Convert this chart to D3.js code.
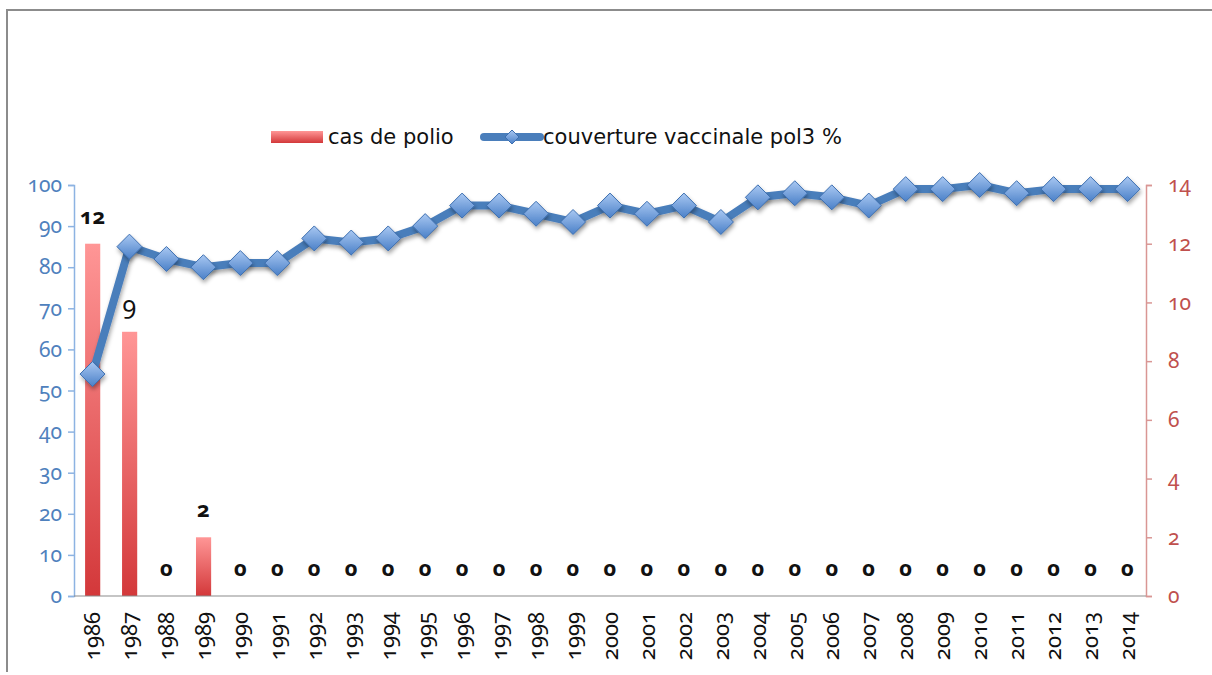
<!DOCTYPE html>
<html>
<head>
<meta charset="utf-8">
<script src="https://cdn.jsdelivr.net/npm/d3@7"></script>
<style>
  html, body { margin: 0; padding: 0; background: #fff; }
  svg text { font-family: "Noto Sans", "DejaVu Sans", sans-serif; font-variant-numeric: oldstyle-nums; }
  svg text.legend { font-family: "DejaVu Sans", sans-serif; font-variant-numeric: normal; }
</style>
</head>
<body>
<svg id="chart" width="1212" height="675"></svg>
<script>
// Data
const years = ['1986', '1987', '1988', '1989', '1990', '1991', '1992', '1993', '1994', '1995',
  '1996', '1997', '1998', '1999', '2000', '2001', '2002', '2003', '2004', '2005',
  '2006', '2007', '2008', '2009', '2010', '2011', '2012', '2013', '2014']
const polioCases = [12, 9, 0, 2, 0, 0, 0, 0, 0, 0, 0, 0, 0, 0, 0, 0, 0, 0, 0, 0, 0, 0, 0, 0, 0, 0, 0, 0, 0]
const coverage = [54, 85, 82, 80, 81, 81, 87, 86, 87, 90, 95, 95, 93, 91, 95, 93, 95, 91, 97, 98,
  97, 95, 99, 99, 100, 98, 99, 99, 99]
const leftTicks = [0, 10, 20, 30, 40, 50, 60, 70, 80, 90, 100]
const rightTicks = [0, 2, 4, 6, 8, 10, 12, 14]

const svg = d3.select('#chart')

// Plot box
const plotLeft = 74
const plotRight = 1146
const plotTop = 185
const plotBottom = 596

const x = d3.scaleBand().domain(years).range([plotLeft, plotRight]).padding(0)
const yL = d3.scaleLinear().domain([0, 100]).range([plotBottom, plotTop])
const yR = d3.scaleLinear().domain([0, 14]).range([plotBottom, plotTop])

const defs = svg.append('defs')

let barGrad = defs.append('linearGradient')
  .attr('id', 'barGrad')
  .attr('x1', 0).attr('y1', 0).attr('x2', 0).attr('y2', 1)
barGrad.append('stop').attr('offset', '0%').attr('stop-color', '#ff9696')
barGrad.append('stop').attr('offset', '100%').attr('stop-color', '#d3383a')

let diaGrad = defs.append('linearGradient')
  .attr('id', 'diaGrad')
  .attr('x1', 0).attr('y1', 0).attr('x2', 0).attr('y2', 1)
diaGrad.append('stop').attr('offset', '0%').attr('stop-color', '#a9c8f2')
diaGrad.append('stop').attr('offset', '100%').attr('stop-color', '#4a80c8')

let shadow = defs.append('filter')
  .attr('id', 'shadow')
  .attr('x', '-50%').attr('y', '-50%').attr('width', '200%').attr('height', '200%')
shadow.append('feDropShadow')
  .attr('dx', 1).attr('dy', 3).attr('stdDeviation', 2)
  .attr('flood-color', '#000').attr('flood-opacity', 0.35)

// Outer frame (top and left edges only)
svg.append('path')
  .attr('d', 'M7,672 V10 H1212')
  .attr('fill', 'none')
  .attr('stroke', '#8c8c8c')
  .attr('stroke-width', 2)

// Bars (right scale)
let bw = x.bandwidth()
svg.append('g')
  .selectAll('rect')
  .data(polioCases)
  .join('rect')
  .attr('x', (d, i) => x(years[i]) + bw * 0.3)
  .attr('width', bw * 0.41)
  .attr('y', d => yR(d))
  .attr('height', d => plotBottom - yR(d))
  .attr('fill', 'url(#barGrad)')

// Bar labels
svg.append('g')
  .selectAll('text')
  .data(polioCases)
  .join('text')
  .attr('x', (d, i) => x(years[i]) + bw / 2)
  .attr('y', d => yR(d) - (d === 9 ? 18 : 20))
  .attr('text-anchor', 'middle')
  .attr('font-size', d => d === 9 ? 25 : 22)
  .attr('font-weight', d => d === 9 ? 'normal' : 'bold')
  .attr('fill', '#111')
  .text(d => d)

// Left axis
let axL = svg.append('g')
  .attr('transform', `translate(${plotLeft},0)`)
  .call(d3.axisLeft(yL).tickValues(leftTicks).tickSize(6).tickPadding(6))
axL.select('.domain').attr('stroke', '#8db3e2').attr('stroke-width', 1.5)
axL.selectAll('.tick line').attr('stroke', '#8db3e2').attr('stroke-width', 1.5)
axL.selectAll('.tick text')
  .attr('fill', '#4f81bd')
  .style('font-size', '21px')

// Right axis
let axR = svg.append('g')
  .attr('transform', `translate(${plotRight},0)`)
  .call(d3.axisRight(yR).tickValues(rightTicks).tickSize(6).tickPadding(16))
axR.select('.domain').attr('stroke', '#d99694').attr('stroke-width', 1.5)
axR.selectAll('.tick line').attr('stroke', '#d99694').attr('stroke-width', 1.5)
axR.selectAll('.tick text')
  .attr('fill', '#c0504d')
  .style('font-size', '21px')

// Category axis
svg.append('line')
  .attr('x1', plotLeft).attr('x2', plotRight)
  .attr('y1', plotBottom).attr('y2', plotBottom)
  .attr('stroke', '#8c8c8c')
  .attr('stroke-width', 1.2)

svg.append('g')
  .selectAll('text')
  .data(years)
  .join('text')
  .attr('transform', d => `translate(${x(d) + bw / 2},612) rotate(-90)`)
  .attr('text-anchor', 'end')
  .attr('dy', '0.35em')
  .attr('font-size', 22)
  .attr('fill', '#111')
  .text(d => d)

// Coverage line
let line = d3.line()
  .x((d, i) => x(years[i]) + bw / 2)
  .y(d => yL(d))

svg.append('path')
  .datum(coverage)
  .attr('d', line)
  .attr('fill', 'none')
  .attr('stroke', '#4a7ebb')
  .attr('stroke-width', 8)
  .attr('stroke-linejoin', 'round')
  .attr('filter', 'url(#shadow)')

let diamond = r => `M0,${-r} L${r},0 L0,${r} L${-r},0 Z`

svg.append('g')
  .selectAll('path')
  .data(coverage)
  .join('path')
  .attr('transform', (d, i) => `translate(${x(years[i]) + bw / 2},${yL(d)})`)
  .attr('d', diamond(12.5))
  .attr('fill', 'url(#diaGrad)')
  .attr('stroke', '#3d6fb0')
  .attr('stroke-width', 1)
  .attr('filter', 'url(#shadow)')

// Legend
let legend = svg.append('g')
legend.append('rect')
  .attr('x', 271).attr('y', 131)
  .attr('width', 52).attr('height', 12)
  .attr('fill', 'url(#barGrad)')
legend.append('text')
  .attr('class', 'legend')
  .attr('x', 328).attr('y', 137)
  .attr('dy', '0.35em')
  .attr('font-size', 21)
  .attr('fill', '#111')
  .text('cas de polio')

legend.append('line')
  .attr('x1', 484).attr('x2', 540)
  .attr('y1', 137).attr('y2', 137)
  .attr('stroke', '#4a7ebb')
  .attr('stroke-width', 8)
  .attr('stroke-linecap', 'round')
legend.append('path')
  .attr('transform', 'translate(512,137)')
  .attr('d', diamond(7))
  .attr('fill', 'url(#diaGrad)')
  .attr('stroke', '#3d6fb0')
  .attr('stroke-width', 1)
legend.append('text')
  .attr('class', 'legend')
  .attr('x', 543).attr('y', 137)
  .attr('dy', '0.35em')
  .attr('font-size', 21)
  .attr('fill', '#111')
  .text('couverture vaccinale pol3 %')
</script>
</body>
</html>
